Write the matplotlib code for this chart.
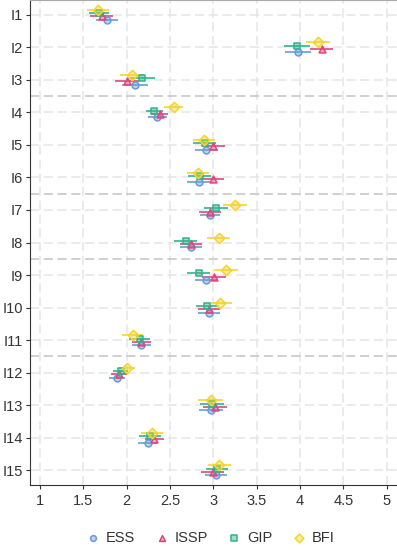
import numpy as np
import matplotlib
matplotlib.use('Agg')
import matplotlib.pyplot as plt

plt.rcParams['font.family'] = ['Liberation Sans', 'DejaVu Sans']

items = ["I%d" % i for i in range(1, 16)]
series = ["ESS", "ISSP", "GIP", "BFI"]

ess_mean = [1.77, 3.98, 2.09, 2.35, 2.92, 2.83, 2.96, 2.74, 2.92, 2.95, 2.17, 1.89, 2.97, 2.24, 3.03]
issp_mean = [1.71, 4.25, 2.00, 2.38, 3.00, 2.99, 2.96, 2.74, 3.01, 2.95, 2.17, 1.91, 3.02, 2.32, 2.99]
gip_mean = [1.68, 3.96, 2.18, 2.32, 2.90, 2.84, 3.03, 2.68, 2.83, 2.93, 2.15, 1.93, 2.98, 2.27, 3.04]
bfi_mean = [1.67, 4.21, 2.06, 2.54, 2.89, 2.82, 3.25, 3.06, 3.15, 3.08, 2.07, 2.00, 2.97, 2.29, 3.07]

ess_err = [0.13, 0.15, 0.15, 0.11, 0.13, 0.13, 0.12, 0.13, 0.13, 0.13, 0.11, 0.09, 0.14, 0.11, 0.13]
issp_err = [0.13, 0.13, 0.14, 0.10, 0.13, 0.13, 0.13, 0.13, 0.14, 0.13, 0.11, 0.09, 0.14, 0.11, 0.13]
gip_err = [0.12, 0.15, 0.15, 0.10, 0.13, 0.13, 0.14, 0.135, 0.13, 0.13, 0.12, 0.09, 0.14, 0.13, 0.13]
bfi_err = [0.13, 0.14, 0.14, 0.11, 0.13, 0.13, 0.135, 0.13, 0.14, 0.13, 0.12, 0.09, 0.145, 0.13, 0.13]

colors = ["#6a9bd6", "#e2457c", "#2fb38b", "#f5d430"]
markers = ["o", "^", "s", "D"]
offsets = [0.15, 0.05, -0.05, -0.15]
separators = [3.5, 6.5, 8.5, 11.5]


def main():
    fig = plt.figure(figsize=(3.97, 5.53), dpi=100)
    ax = fig.add_axes([0.076, 0.1235, 0.924, 0.8765])

    means = [ess_mean, issp_mean, gip_mean, bfi_mean]
    errs = [ess_err, issp_err, gip_err, bfi_err]
    ypos = np.arange(1, len(items) + 1)

    handles = []
    for name, m, e, c, mk, off in zip(series, means, errs, colors, markers, offsets):
        ms = 4.8 if mk == "D" else 4.5
        ax.errorbar(m, ypos + off, xerr=e, fmt="none", ecolor=c, elinewidth=1.4,
                    alpha=0.85, capsize=0, zorder=3)
        h = ax.scatter(m, ypos + off, marker=mk, s=ms ** 2 * 1.2,
                       facecolor=matplotlib.colors.to_rgba(c, 0.45),
                       edgecolor=c, linewidth=1.1, zorder=4, label=name)
        handles.append(h)

    for s in separators:
        ax.axhline(s, color="#c4c4c4", linestyle=(0, (6, 3)), linewidth=1.1, zorder=2)

    ax.set_xlim(0.885, 5.12)
    ax.set_ylim(15.44, 0.55)
    ax.set_xticks(np.arange(1, 5.01, 0.5))
    ax.set_xticklabels(["1", "1.5", "2", "2.5", "3", "3.5", "4", "4.5", "5"])
    ax.set_yticks(ypos)
    ax.set_yticklabels(items)
    ax.grid(True, color="#e6e6e6", linestyle=(0, (6, 3)), linewidth=1.1, zorder=0)
    ax.set_axisbelow(True)

    ax.spines["right"].set_visible(False)
    ax.spines["top"].set_color("#aaaaaa")
    ax.spines["left"].set_color("#333333")
    ax.spines["bottom"].set_color("#333333")
    ax.tick_params(axis="both", labelsize=10.5, colors="#333333", length=3,
                   labelcolor="#333333")
    ax.tick_params(axis="y", pad=2)

    fig.legend(handles=handles, loc="center", bbox_to_anchor=(0.53, 0.027), ncol=4,
               frameon=False, fontsize=10.5, handlelength=1.0, handletextpad=0.4,
               columnspacing=1.3, markerscale=0.85, labelcolor="#333333")

    fig.savefig("out.png", dpi=100)


if __name__ == "__main__":
    main()
